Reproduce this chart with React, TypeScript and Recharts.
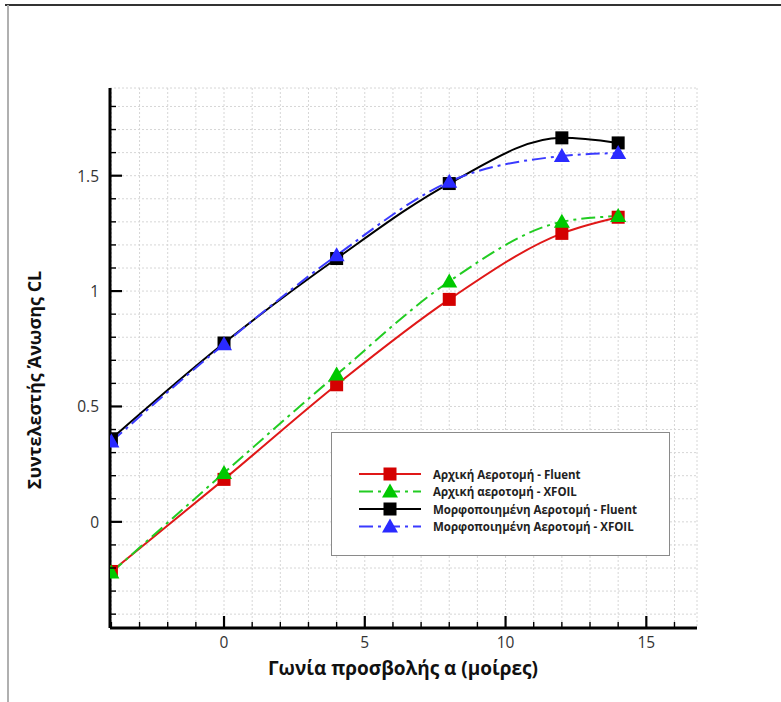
import React from 'react';
import {
  CartesianGrid,
  Line,
  LineChart,
  XAxis,
  YAxis,
} from 'recharts';

// angle of attack (deg)
const alpha = [-4, 0, 4, 8, 12, 14];

// lift coefficient CL
const originalFluent = [-0.215, 0.184, 0.594, 0.964, 1.25, 1.32];
const originalXfoil = [-0.22, 0.212, 0.638, 1.042, 1.3, 1.325];
const morphedFluent = [0.36, 0.775, 1.141, 1.466, 1.664, 1.642];
const morphedXfoil = [0.348, 0.77, 1.155, 1.474, 1.585, 1.598];

const xTicks = [-4, -3, -2, -1, 0, 1, 2, 3, 4, 5, 6, 7, 8, 9, 10, 11, 12, 13, 14, 15, 16];
const xLabels = [0, 5, 10, 15];
const yTicks = [-0.4, -0.3, -0.2, -0.1, 0, 0.1, 0.2, 0.3, 0.4, 0.5, 0.6, 0.7, 0.8, 0.9, 1, 1.1, 1.2, 1.3, 1.4, 1.5, 1.6, 1.7, 1.8];
const yLabels = [0, 0.5, 1, 1.5];

const data = alpha.map((a, i) => ({
  alpha: a,
  origFluent: originalFluent[i],
  origXfoil: originalXfoil[i],
  morphFluent: morphedFluent[i],
  morphXfoil: morphedXfoil[i],
}));

const FONT = '"Open Sans", sans-serif';

type Series = {
  key: string;
  name: string;
  line: string;
  fill: string;
  dash?: string;
  marker: 'square' | 'triangle';
};

const series: Series[] = [
  { key: 'origFluent', name: 'Αρχική Αεροτομή - Fluent', line: '#e01818', fill: '#d40000', marker: 'square' },
  { key: 'origXfoil', name: 'Αρχική αεροτομή - XFOIL', line: '#22cc22', fill: '#00c800', dash: '14 5 3 5', marker: 'triangle' },
  { key: 'morphFluent', name: 'Μορφοποιημένη Αεροτομή - Fluent', line: '#000000', fill: '#000000', marker: 'square' },
  { key: 'morphXfoil', name: 'Μορφοποιημένη Αεροτομή - XFOIL', line: '#3a3aff', fill: '#2a2aff', dash: '14 5 3 5', marker: 'triangle' },
];

function Marker({ cx, cy, kind, fill }: { cx: number; cy: number; kind: string; fill: string }) {
  if (kind === 'square') {
    return <rect x={cx - 6.5} y={cy - 6.5} width={13} height={13} fill={fill} />;
  }
  return <polygon points={`${cx},${cy - 8} ${cx - 8},${cy + 6} ${cx + 8},${cy + 6}`} fill={fill} />;
}

const XTick = (props: any) => {
  const { x, y, payload } = props;
  const major = xLabels.includes(payload.value);
  return (
    <g>
      <line x1={x} x2={x} y1={y} y2={y - (major ? 12 : 6)} stroke="#000" strokeWidth={major ? 2.2 : 1.4} />
      {major && (
        <text x={x} y={y + 20} textAnchor="middle" fontFamily={FONT} fontSize={15.5} fill="#333">
          {payload.value}
        </text>
      )}
    </g>
  );
};

const YTick = (props: any) => {
  const { x, y, payload } = props;
  const v = Math.round(payload.value * 10) / 10;
  const major = yLabels.includes(v);
  return (
    <g>
      <line x1={x} x2={x + (major ? 12 : 6)} y1={y} y2={y} stroke="#000" strokeWidth={major ? 2.2 : 1.4} />
      {major && (
        <text x={x - 11} y={y + 6} textAnchor="end" fontFamily={FONT} fontSize={15.5} fill="#333">
          {v}
        </text>
      )}
    </g>
  );
};

const LegendBox = () => (
  <div
    style={{
      position: 'absolute',
      left: 331,
      top: 432,
      width: 337,
      height: 122,
      border: '1px solid #8a8a8a',
      background: '#fff',
    }}
  >
    <svg width={337} height={122} style={{ display: 'block' }}>
      {series.map((s, i) => {
        const cy = 41 + i * 17.5;
        return (
          <g key={s.key}>
            <line x1={27} x2={89} y1={cy} y2={cy} stroke={s.line} strokeWidth={2} strokeDasharray={s.dash} />
            <Marker cx={58} cy={cy} kind={s.marker} fill={s.fill} />
            <text x={101} y={cy + 4.5} fontFamily={FONT} fontWeight="bold" fontSize={11.5} fill="#222">
              {s.name}
            </text>
          </g>
        );
      })}
    </svg>
  </div>
);

export default function App() {
  return (
    <div style={{ position: 'absolute', left: 0, top: 0, width: 781, height: 702, background: '#fff' }}>
      <div style={{ position: 'absolute', left: 5, top: 4, right: 0, height: 2, background: '#333' }} />
      <div style={{ position: 'absolute', left: 7, top: 5, bottom: 0, width: 1.5, background: '#b0b0b0' }} />
      <LineChart
        width={781}
        height={702}
        data={data}
        margin={{ top: 88, right: 84, bottom: 14, left: 10 }}
      >
        <CartesianGrid stroke="#d6d6d6" strokeDasharray="2 2" />
        <XAxis
          dataKey="alpha"
          type="number"
          domain={[-4.05, 16.8]}
          ticks={xTicks}
          interval={0}
          allowDataOverflow
          height={60}
          tickSize={0}
          tickMargin={0}
          tickLine={false}
          tick={<XTick />}
          axisLine={{ stroke: '#000', strokeWidth: 3 }}
          label={() => (
            <text x={403} y={675} textAnchor="middle" fontFamily={FONT} fontWeight="bold" fontSize={19} fill="#111">
              Γωνία προσβολής α (μοίρες)
            </text>
          )}
        />
        <YAxis
          type="number"
          domain={[-0.46, 1.88]}
          ticks={yTicks}
          interval={0}
          allowDataOverflow
          width={100}
          tickSize={0}
          tickMargin={0}
          tickLine={false}
          tick={<YTick />}
          axisLine={{ stroke: '#000', strokeWidth: 3 }}
          label={() => (
            <text
              x={41}
              y={380}
              transform="rotate(-90 41 380)"
              textAnchor="middle"
              fontFamily={FONT}
              fontWeight="bold"
              fontSize={18}
              fill="#111"
            >
              Συντελεστής Άνωσης CL
            </text>
          )}
        />
        {series.map((s) => (
          <Line
            key={s.key}
            dataKey={s.key}
            name={s.name}
            type="monotone"
            stroke={s.line}
            strokeWidth={2}
            strokeDasharray={s.dash}
            isAnimationActive={false}
            activeDot={false}
            dot={(p: any) => (
              <Marker key={`${s.key}-${p.index}`} cx={p.cx} cy={p.cy} kind={s.marker} fill={s.fill} />
            )}
          />
        ))}
      </LineChart>
      <LegendBox />
    </div>
  );
}
